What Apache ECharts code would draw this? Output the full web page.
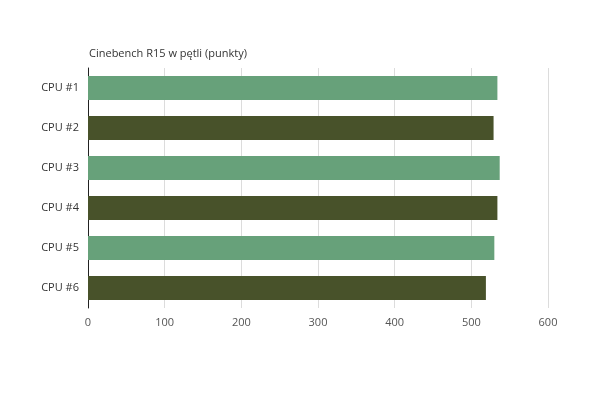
<!DOCTYPE html>
<html><head><meta charset="utf-8">
<script src="https://cdn.jsdelivr.net/npm/echarts@6/dist/echarts.min.js"></script>
<style>html,body{margin:0;padding:0;background:#fff}#c{width:600px;height:393px}</style>
</head><body><div id="c"></div>
<script>
const categories = ['CPU #1','CPU #2','CPU #3','CPU #4','CPU #5','CPU #6'];
const values = [534, 529, 537, 534, 530, 519];
const barColors = ['#67a17a','#48522a','#67a17a','#48522a','#67a17a','#48522a'];
const titleText = 'Cinebench R15 w pętli (punkty)';

const chart = echarts.init(document.getElementById('c'));
chart.setOption({
  animation: false,
  title: { text: titleText, left: 84, top: 43, textStyle: { fontFamily: 'Open Sans', fontSize: 11, fontWeight: 'normal', color: '#333' } },
  grid: { left: 88, right: 52, top: 68, bottom: 85 },
  xAxis: {
    type: 'value', min: 0, max: 600, interval: 100,
    axisLine: { show: false },
    axisTick: { show: false },
    splitLine: { show: true, lineStyle: { color: '#dcdcdc', width: 1 } },
    axisLabel: { color: '#555', fontFamily: 'Open Sans', fontSize: 11, margin: 9 }
  },
  yAxis: {
    type: 'category', data: categories, inverse: true,
    axisLine: { show: true, lineStyle: { color: '#222', width: 1 } },
    axisTick: { show: false },
    axisLabel: { color: '#333', fontFamily: 'Open Sans', fontSize: 11, margin: 9 }
  },
  series: [{
    type: 'bar',
    data: values.map((v, i) => ({ value: v, itemStyle: { color: barColors[i] } })),
    barCategoryGap: '40%'
  }]
});
</script></body></html>
